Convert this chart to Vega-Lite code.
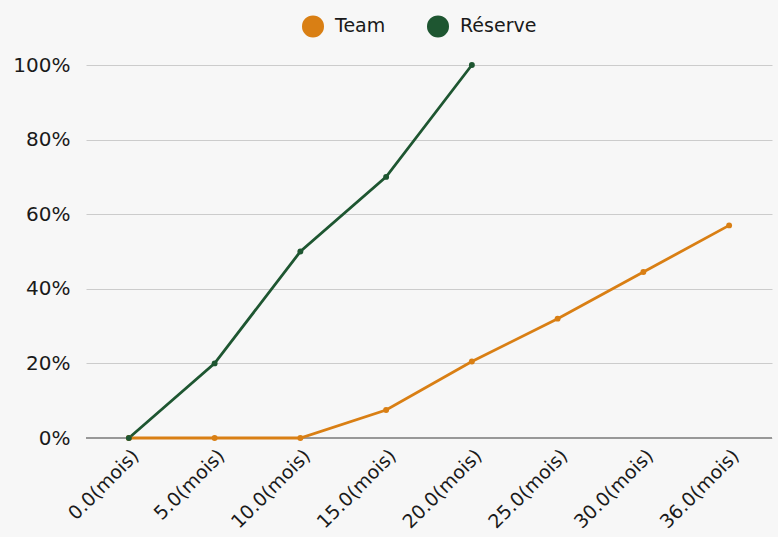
{
  "$schema": "https://vega.github.io/schema/vega-lite/v6.json",
  "width": 686,
  "height": 373,
  "autosize": {"type": "none"},
  "padding": {"left": 86, "top": 65, "right": 6, "bottom": 99},
  "background": "#f7f7f7",
  "config": {
    "view": {"stroke": null},
    "font": "DejaVu Sans"
  },
  "data": {
    "values": [
      {"mois": "0.0(mois)", "serie": "Team", "v": 0},
      {"mois": "5.0(mois)", "serie": "Team", "v": 0},
      {"mois": "10.0(mois)", "serie": "Team", "v": 0},
      {"mois": "15.0(mois)", "serie": "Team", "v": 7.5},
      {"mois": "20.0(mois)", "serie": "Team", "v": 20.5},
      {"mois": "25.0(mois)", "serie": "Team", "v": 32},
      {"mois": "30.0(mois)", "serie": "Team", "v": 44.5},
      {"mois": "36.0(mois)", "serie": "Team", "v": 57},
      {"mois": "0.0(mois)", "serie": "Réserve", "v": 0},
      {"mois": "5.0(mois)", "serie": "Réserve", "v": 20},
      {"mois": "10.0(mois)", "serie": "Réserve", "v": 50},
      {"mois": "15.0(mois)", "serie": "Réserve", "v": 70},
      {"mois": "20.0(mois)", "serie": "Réserve", "v": 100}
    ]
  },
  "encoding": {
    "x": {
      "field": "mois", "type": "ordinal", "sort": null, "title": null,
      "scale": {"type": "point", "padding": 0.5},
      "axis": {"labelAngle": -45, "labelFontSize": 19, "labelColor": "#1a1a1a", "domain": false, "ticks": false, "labelPadding": 8, "grid": false}
    },
    "y": {
      "field": "v", "type": "quantitative", "title": null,
      "scale": {"domain": [0, 100]},
      "axis": {"values": [0, 20, 40, 60, 80, 100], "labelExpr": "datum.value + '%'", "labelFontSize": 20, "labelColor": "#1a1a1a", "domain": false, "ticks": false, "labelPadding": 16, "gridColor": "#cccccc", "gridWidth": 1}
    },
    "color": {
      "field": "serie", "type": "nominal", "title": null,
      "scale": {"domain": ["Team", "Réserve"], "range": ["#d97f14", "#1e5631"]},
      "legend": {"orient": "none", "legendX": 216, "legendY": -50, "direction": "horizontal", "symbolType": "circle", "symbolSize": 420, "symbolOpacity": 1, "labelFontSize": 19, "labelColor": "#1a1a1a", "columnPadding": 38, "labelOffset": 11}
    }
  },
  "layer": [
    {"mark": {"type": "rule", "color": "#999999", "strokeWidth": 1.5}, "encoding": {"y": {"datum": 0}, "x": null, "color": null}},
    {"mark": {"type": "line", "strokeWidth": 2.8}},
    {"mark": {"type": "point", "filled": true, "size": 35, "opacity": 1}}
  ]
}
